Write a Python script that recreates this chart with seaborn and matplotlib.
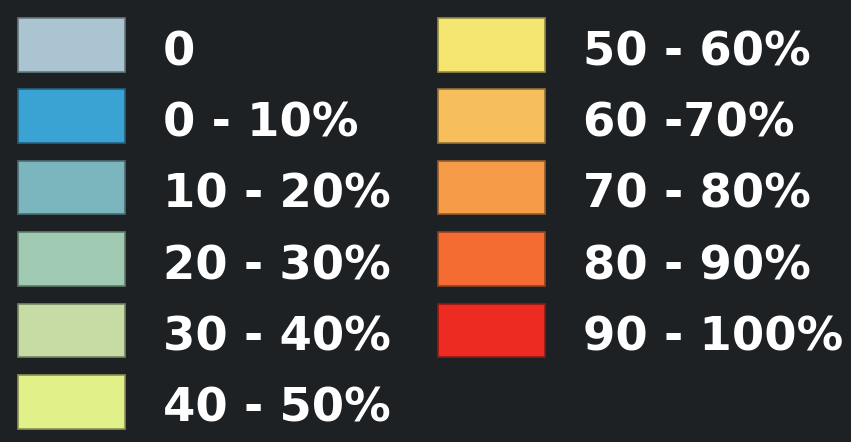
## Colour key for percentage bands, drawn as swatches + labels on a dark background

import numpy as np
import matplotlib.pyplot as plt
import matplotlib.colors as mcolors
import seaborn as sns

# legend entries (in reading order: left column then right column)
labels = ["0", "0 - 10%", "10 - 20%", "20 - 30%", "30 - 40%", "40 - 50%",
          "50 - 60%", "60 -70%", "70 - 80%", "80 - 90%", "90 - 100%"]
colors = ["#aac4d1", "#3ba3d3", "#7bb6bf", "#a0c9b1", "#c6dca4", "#e2f08a",
          "#f5e671", "#f6bf5b", "#f69b47", "#f46c31", "#ee2b22"]

bg = "#1e2124"


def main():
    sns.set_theme(style="dark", rc={"axes.facecolor": bg, "figure.facecolor": bg})
    plt.rcParams["font.family"] = ["DejaVu Sans"]

    palette = sns.color_palette(colors)

    fig = plt.figure(figsize=(8.51, 4.42), dpi=100)
    ax = fig.add_axes([0, 0, 1, 1])
    ax.set_xlim(0, 851)
    ax.set_ylim(442, 0)
    ax.set_axis_off()

    n_left = 6
    row_step = 71.4
    top0 = 18
    sw_w, sw_h = 107, 53.5
    col_x = [18.3, 437.7]
    text_x = [163, 583]

    idx = np.arange(len(labels))
    col = (idx >= n_left).astype(int)
    row = np.where(col == 0, idx, idx - n_left)
    xs = np.array(col_x)[col]
    tops = top0 + row * row_step

    edges = [tuple(np.array(mcolors.to_rgb(c)) * 0.6) for c in palette]
    ax.bar(xs, sw_h, width=sw_w, bottom=tops, align="edge",
           color=palette, edgecolor=edges, linewidth=1.2)

    for i, lab in enumerate(labels):
        ax.text(text_x[col[i]], tops[i] + 47, lab, color="white",
                fontsize=33.5, fontweight="bold", va="baseline", ha="left")

    fig.savefig("out.png", dpi=100, facecolor=bg)


if __name__ == '__main__':
    main()
